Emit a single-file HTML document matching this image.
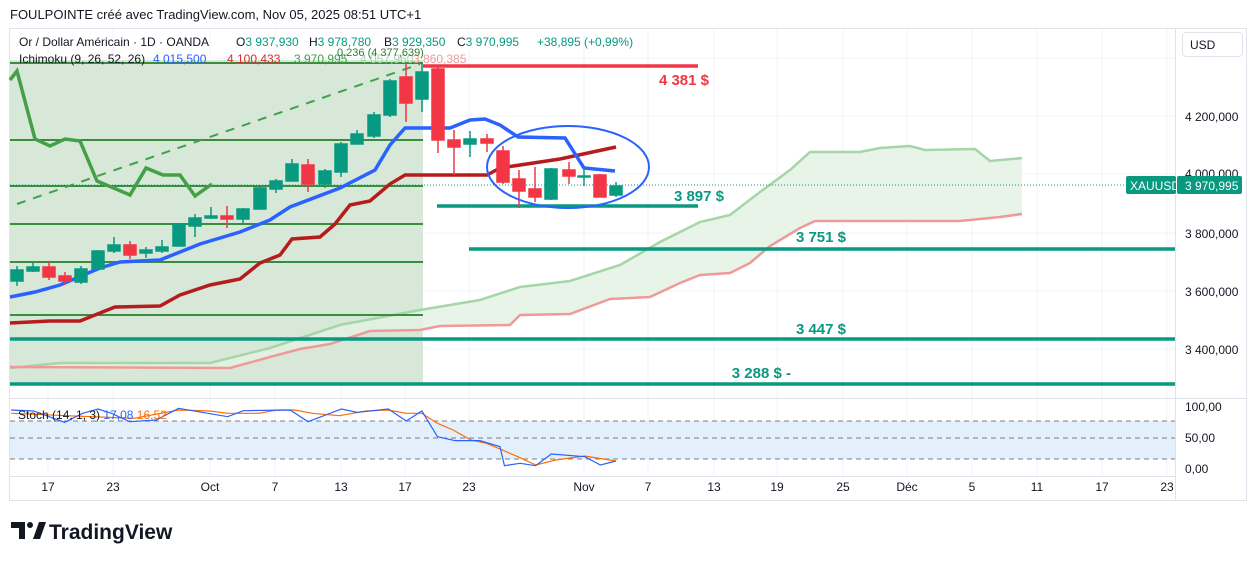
<!DOCTYPE html>
<html><head><meta charset="utf-8"><style>
body{margin:0;width:1257px;height:561px;background:#fff;overflow:hidden;font-family:"Liberation Sans",sans-serif}
svg{position:absolute;left:0;top:0}
text{font-family:"Liberation Sans",sans-serif}
</style></head><body>
<svg width="1257" height="561" viewBox="0 0 1257 561">
<text x="10" y="19" font-size="13" fill="#131722">FOULPOINTE créé avec TradingView.com, Nov 05, 2025 08:51 UTC+1</text>
<rect x="9.5" y="28.5" width="1237" height="472" fill="none" stroke="#e0e3eb"/>
<g stroke="#f0f3fa" stroke-width="1">
<line x1="48" y1="29" x2="48" y2="476"/><line x1="113" y1="29" x2="113" y2="476"/><line x1="210" y1="29" x2="210" y2="476"/><line x1="275" y1="29" x2="275" y2="476"/><line x1="341" y1="29" x2="341" y2="476"/><line x1="405" y1="29" x2="405" y2="476"/><line x1="469" y1="29" x2="469" y2="476"/><line x1="584" y1="29" x2="584" y2="476"/><line x1="648" y1="29" x2="648" y2="476"/><line x1="714" y1="29" x2="714" y2="476"/><line x1="777" y1="29" x2="777" y2="476"/><line x1="843" y1="29" x2="843" y2="476"/><line x1="907" y1="29" x2="907" y2="476"/><line x1="972" y1="29" x2="972" y2="476"/><line x1="1037" y1="29" x2="1037" y2="476"/><line x1="1102" y1="29" x2="1102" y2="476"/><line x1="1167" y1="29" x2="1167" y2="476"/>
<line x1="10" y1="58" x2="1175" y2="58"/><line x1="10" y1="116" x2="1175" y2="116"/><line x1="10" y1="174" x2="1175" y2="174"/><line x1="10" y1="233" x2="1175" y2="233"/><line x1="10" y1="291" x2="1175" y2="291"/><line x1="10" y1="349" x2="1175" y2="349"/>
</g>
<line x1="1175.5" y1="29" x2="1175.5" y2="500" stroke="#e0e3eb"/>
<line x1="10" y1="398.5" x2="1246" y2="398.5" stroke="#e0e3eb"/>
<rect x="10" y="60" width="413" height="323" fill="#d8e8d8"/>
<path d="M10 368 L60 363 L210 363 L270 348 L340 325 L420 310 L480 300 L520 287 L570 281 L620 265 L660 242 L700 222 L730 215 L760 192 L790 170 L810 152 L860 152 L880 148 L910 146 L925 150 L975 149 L990 161 L1022 158 L1022 214 L1000 217 L960 221 L815 221 L800 228 L770 246 L750 263 L730 273 L700 275 L680 283 L650 297 L610 299 L570 314 L520 315 L510 325 L440 326 L420 330 L370 331 L330 344 L300 349 L270 357 L230 368 L10 367 Z" fill="#e3f1e3" opacity="0.8"/>
<polyline fill="none" stroke="#a5d6a7" stroke-width="2.5" points="10,368 60,363 210,363 270,348 340,325 420,310 480,300 520,287 570,281 620,265 660,242 700,222 730,215 760,192 790,170 810,152 860,152 880,148 910,146 925,150 975,149 990,161 1022,158"/>
<polyline fill="none" stroke="#ef9a9a" stroke-width="2.5" points="10,367 230,368 270,357 300,349 330,344 370,331 420,330 440,326 510,325 520,315 570,314 610,299 650,297 680,283 700,275 730,273 750,263 770,246 800,228 815,221 960,221 1000,217 1022,214"/>
<g stroke="#388e3c" stroke-width="2">
<line x1="10" y1="140" x2="423" y2="140"/><line x1="10" y1="186" x2="423" y2="186"/><line x1="10" y1="224" x2="423" y2="224"/><line x1="10" y1="262" x2="423" y2="262"/><line x1="10" y1="315" x2="423" y2="315"/>
</g>
<line x1="10" y1="63" x2="423" y2="63" stroke="#388e3c" stroke-width="2"/>
<line x1="17" y1="204" x2="420" y2="64" stroke="#43a047" stroke-width="2" stroke-dasharray="9,8"/>
<g stroke="#089981" stroke-width="3.5">
<line x1="437" y1="206" x2="698" y2="206"/><line x1="469" y1="249" x2="1175" y2="249"/><line x1="10" y1="339" x2="1175" y2="339"/><line x1="10" y1="384" x2="1175" y2="384"/>
</g>
<line x1="423" y1="66" x2="698" y2="66" stroke="#f23645" stroke-width="3.5"/>
<line x1="10" y1="185" x2="1175" y2="185" stroke="#089981" stroke-dasharray="1,2"/>
<polyline fill="none" stroke="#43a047" stroke-width="3.5" points="10,80 17,71 35,139 50,146 65,139 80,141 97,181 130,195 146,168 163,175 180,175 195,196 212,184"/>
<polyline fill="none" stroke="#b71c1c" stroke-width="3.5" points="10,323 50,321 80,321 115,307 160,306 180,295 210,285 240,279 260,263 280,255 292,239 320,237 335,224 350,205 370,201 390,184 405,175 487,175 500,168 560,159 616,147"/>
<polyline fill="none" stroke="#2962ff" stroke-width="3.5" points="10,297 35,292 60,285 100,268 120,262 160,260 200,244 240,232 270,220 290,207 340,188 375,170 390,145 405,128 450,128 470,120 485,119 500,125 518,137 565,138 584,168 615,171"/>
<g stroke-width="1.5">
<g stroke="#089981" fill="#089981">
<line x1="17" y1="266" x2="17" y2="286"/><rect x="11" y="270" width="12" height="11"/>
<line x1="33" y1="263" x2="33" y2="272"/><rect x="27" y="267" width="12" height="4"/>
<line x1="81" y1="266" x2="81" y2="284"/><rect x="75" y="269" width="12" height="13"/>
<line x1="98" y1="250" x2="98" y2="270"/><rect x="92" y="251" width="12" height="18"/>
<line x1="114" y1="237" x2="114" y2="253"/><rect x="108" y="245" width="12" height="6"/>
<line x1="146" y1="247" x2="146" y2="258"/><rect x="140" y="250" width="12" height="3"/>
<line x1="162" y1="240" x2="162" y2="253"/><rect x="156" y="247" width="12" height="4"/>
<line x1="179" y1="224" x2="179" y2="246"/><rect x="173" y="224" width="12" height="22"/>
<line x1="195" y1="214" x2="195" y2="237"/><rect x="189" y="218" width="12" height="8"/>
<line x1="211" y1="207" x2="211" y2="219"/><rect x="205" y="216" width="12" height="2"/>
<line x1="243" y1="208" x2="243" y2="224"/><rect x="237" y="209" width="12" height="10"/>
<line x1="260" y1="186" x2="260" y2="209"/><rect x="254" y="188" width="12" height="21"/>
<line x1="276" y1="179" x2="276" y2="193"/><rect x="270" y="181" width="12" height="8"/>
<line x1="292" y1="159" x2="292" y2="181"/><rect x="286" y="164" width="12" height="17"/>
<line x1="325" y1="169" x2="325" y2="188"/><rect x="319" y="171" width="12" height="13"/>
<line x1="341" y1="142" x2="341" y2="177"/><rect x="335" y="144" width="12" height="28"/>
<line x1="357" y1="130" x2="357" y2="144"/><rect x="351" y="134" width="12" height="10"/>
<line x1="374" y1="112" x2="374" y2="138"/><rect x="368" y="115" width="12" height="21"/>
<line x1="390" y1="79" x2="390" y2="117"/><rect x="384" y="81" width="12" height="34"/>
<line x1="422" y1="64" x2="422" y2="112"/><rect x="416" y="72" width="12" height="27"/>
<line x1="470" y1="131" x2="470" y2="157"/><rect x="464" y="139" width="12" height="5"/>
<line x1="551" y1="168" x2="551" y2="200"/><rect x="545" y="169" width="12" height="30"/>
<line x1="584" y1="168" x2="584" y2="186"/><rect x="578" y="176" width="12" height="1"/>
<line x1="616" y1="182" x2="616" y2="197"/><rect x="610" y="186" width="12" height="9"/>
</g>
<g stroke="#f23645" fill="#f23645">
<line x1="49" y1="262" x2="49" y2="280"/><rect x="43" y="267" width="12" height="10"/>
<line x1="65" y1="272" x2="65" y2="285"/><rect x="59" y="276" width="12" height="5"/>
<line x1="130" y1="241" x2="130" y2="259"/><rect x="124" y="245" width="12" height="10"/>
<line x1="227" y1="206" x2="227" y2="228"/><rect x="221" y="216" width="12" height="3"/>
<line x1="308" y1="159" x2="308" y2="192"/><rect x="302" y="165" width="12" height="19"/>
<line x1="406" y1="64" x2="406" y2="122"/><rect x="400" y="77" width="12" height="26"/>
<line x1="438" y1="66" x2="438" y2="153"/><rect x="432" y="69" width="12" height="71"/>
<line x1="454" y1="130" x2="454" y2="175"/><rect x="448" y="140" width="12" height="7"/>
<line x1="487" y1="134" x2="487" y2="152"/><rect x="481" y="139" width="12" height="4"/>
<line x1="503" y1="146" x2="503" y2="184"/><rect x="497" y="151" width="12" height="31"/>
<line x1="519" y1="170" x2="519" y2="208"/><rect x="513" y="179" width="12" height="12"/>
<line x1="535" y1="167" x2="535" y2="202"/><rect x="529" y="189" width="12" height="8"/>
<line x1="569" y1="162" x2="569" y2="184"/><rect x="563" y="170" width="12" height="6"/>
<line x1="600" y1="174" x2="600" y2="197"/><rect x="594" y="175" width="12" height="22"/>
</g>
</g>
<ellipse cx="568" cy="167" rx="81" ry="41" fill="none" stroke="#2962ff" stroke-width="2"/>
<g font-size="15" font-weight="bold">
<text x="709" y="85" text-anchor="end" fill="#f23645">4 381 $</text>
<text x="724" y="201" text-anchor="end" fill="#089981">3 897 $</text>
<text x="846" y="242" text-anchor="end" fill="#089981">3 751 $</text>
<text x="846" y="334" text-anchor="end" fill="#089981">3 447 $</text>
<text x="791" y="378" text-anchor="end" fill="#089981">3 288 $ -</text>
</g>
<g font-size="12">
<text x="19" y="46" fill="#131722">Or / Dollar Américain · 1D · OANDA</text>
<text x="236" y="46" fill="#131722">O<tspan fill="#089981">3 937,930</tspan></text>
<text x="309" y="46" fill="#131722">H<tspan fill="#089981">3 978,780</tspan></text>
<text x="384" y="46" fill="#131722">B<tspan fill="#089981">3 929,350</tspan></text>
<text x="457" y="46" fill="#131722">C<tspan fill="#089981">3 970,995</tspan></text>
<text x="537" y="46" fill="#089981">+38,895 (+0,99%)</text>
<text x="19" y="63" fill="#131722">Ichimoku (9, 26, 52, 26)</text>
<text x="153" y="63" fill="#2962ff">4 015,500</text>
<text x="227" y="63" fill="#d32f2f">4 100,433</text>
<text x="294" y="63" fill="#43a047">3 970,995</text>
<text x="360" y="63" fill="#a5d6a7">4 057,960</text>
<text x="413" y="63" fill="#ef9a9a">3 860,385</text>
<text x="337" y="56" fill="#2e7d32" font-size="11">0,236 (4 377,639)</text>
</g>
<rect x="1182.5" y="32.5" width="60" height="24" rx="4" fill="#fff" stroke="#e0e3eb"/>
<text x="1190" y="49" font-size="12" fill="#131722">USD</text>
<g font-size="12" fill="#131722">
<text x="1185" y="121">4 200,000</text>
<text x="1185" y="178">4 000,000</text>
<text x="1185" y="238">3 800,000</text>
<text x="1185" y="296">3 600,000</text>
<text x="1185" y="354">3 400,000</text>
<text x="1185" y="411">100,00</text>
<text x="1185" y="442">50,00</text>
<text x="1185" y="473">0,00</text>
</g>
<rect x="1126" y="176" width="50" height="18" rx="2" fill="#089981"/>
<text x="1130" y="190" font-size="12" fill="#fff">XAUUSD</text>
<rect x="1177" y="176" width="65" height="18" rx="2" fill="#089981"/>
<text x="1185" y="190" font-size="12" fill="#fff">3 970,995</text>
<rect x="10" y="421" width="1165" height="38" fill="#e3f0fb"/>
<g stroke="#787b86" stroke-dasharray="5,4"><line x1="10" y1="421" x2="1175" y2="421"/><line x1="10" y1="438" x2="1175" y2="438"/><line x1="10" y1="459" x2="1175" y2="459"/></g>
<g transform="translate(0,395) scale(0.4464,0.3333)">
<polyline fill="none" stroke="#ff6d00" stroke-width="1.2" vector-effect="non-scaling-stroke" points="25,55 150,62 300,70 400,45 470,48 510,55 580,55 620,45 660,45 700,55 760,62 820,48 870,45 910,55 945,55 980,85 1015,105 1055,135 1090,145 1160,185 1200,210 1245,195 1310,183 1380,198"/>
<polyline fill="none" stroke="#2962ff" stroke-width="1.2" vector-effect="non-scaling-stroke" points="25,45 75,48 120,70 145,82 185,55 220,42 250,55 290,80 350,75 400,40 510,65 545,47 650,45 690,80 765,42 800,52 870,42 910,78 945,48 980,125 1020,137 1075,137 1120,155 1130,212 1165,205 1200,212 1235,177 1310,185 1345,210 1380,198"/>
</g>
<text x="18" y="419" font-size="12" fill="#131722">Stoch (14, 1, 3) <tspan fill="#2962ff">17,08</tspan> <tspan fill="#ff6d00">16,52</tspan></text>
<line x1="10" y1="476.5" x2="1175" y2="476.5" stroke="#e0e3eb"/>
<g font-size="12" fill="#131722" text-anchor="middle">
<text x="48" y="491">17</text><text x="113" y="491">23</text><text x="210" y="491">Oct</text><text x="275" y="491">7</text><text x="341" y="491">13</text><text x="405" y="491">17</text><text x="469" y="491">23</text><text x="584" y="491">Nov</text><text x="648" y="491">7</text><text x="714" y="491">13</text><text x="777" y="491">19</text><text x="843" y="491">25</text><text x="907" y="491">Déc</text><text x="972" y="491">5</text><text x="1037" y="491">11</text><text x="1102" y="491">17</text><text x="1167" y="491">23</text>
</g>
<path d="M11 522 h14 v17 h-6 v-11 h-8 z" fill="#131722"/>
<circle cx="30" cy="525" r="3" fill="#131722"/>
<path d="M33 539 l6 -17 h7 l-6 17 z" fill="#131722"/>
<text x="49" y="539" font-size="21" font-weight="bold" fill="#131722">TradingView</text>
</svg>
</body></html>
